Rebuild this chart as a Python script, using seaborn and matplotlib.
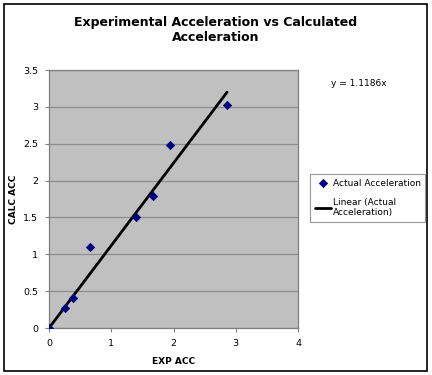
import numpy as np
import pandas as pd
import matplotlib
matplotlib.use("Agg")
import matplotlib.pyplot as plt
import seaborn as sns
from matplotlib.patches import Rectangle

# Data
exp_acc = [0.0, 0.26, 0.38, 0.66, 1.39, 1.67, 1.95, 2.86]
calc_acc = [0.0, 0.27, 0.41, 1.10, 1.51, 1.79, 2.48, 3.03]
slope = 1.1186
x_ticks = [0, 1, 2, 3, 4]
y_ticks = [0, 0.5, 1, 1.5, 2, 2.5, 3, 3.5]

df = pd.DataFrame({"exp": exp_acc, "calc": calc_acc})
fit = pd.DataFrame({"exp": [0.0, max(exp_acc)]})
fit["calc"] = slope * fit["exp"]

sns.set_style("white")
plt.rcParams["font.family"] = ["DejaVu Sans"]
plt.rcParams["text.color"] = "black"
plt.rcParams["axes.labelcolor"] = "black"
plt.rcParams["xtick.color"] = "black"
plt.rcParams["ytick.color"] = "black"

fig = plt.figure(figsize=(4.32, 3.75), dpi=100)
ax = fig.add_axes([49 / 432, 1 - 328 / 375, 249 / 432, 258 / 375])
ax.set_facecolor("#c0c0c0")

# Horizontal gridlines
for yv in y_ticks:
    ax.axhline(yv, color="#8e8e8e", linewidth=0.9, zorder=1)

sns.lineplot(data=fit, x="exp", y="calc", ax=ax, color="black",
             linewidth=2, zorder=3, label="Linear (Actual\nAcceleration)")
sns.scatterplot(data=df, x="exp", y="calc", ax=ax, color="#000080",
                marker="D", s=18, edgecolor="#000080", linewidth=0.5,
                zorder=4, label="Actual Acceleration")

ax.set_xlim(0, 4)
ax.set_ylim(0, 3.5)
ax.set_xticks(x_ticks)
ax.set_yticks(y_ticks)
ax.set_xticklabels([str(v) for v in x_ticks])
ax.set_yticklabels([f"{v:g}" for v in y_ticks])
ax.tick_params(axis="both", labelsize=6.8, length=3, color="#808080",
               labelcolor="black", direction="out", pad=5,
               left=True, bottom=True)
for sp in ax.spines.values():
    sp.set_color("#808080")
    sp.set_linewidth(0.9)

ax.set_xlabel("EXP ACC", fontsize=6.5, fontweight="bold")
ax.set_ylabel("CALC ACC", fontsize=6.5, fontweight="bold")
ax.xaxis.set_label_coords(0.5, -0.112)
ax.yaxis.set_label_coords(-0.125, 0.5)

fig.text(215.5 / 432, 1 - 30 / 375,
         "Experimental Acceleration vs Calculated\nAcceleration",
         ha="center", va="center", fontsize=9, fontweight="bold",
         linespacing=1.2)

fig.text(331 / 432, 1 - 84 / 375, "y = 1.1186x", fontsize=6.5,
         ha="left", va="center")

handles, labels = ax.get_legend_handles_labels()
order = [1, 0]
leg = fig.legend([handles[i] for i in order], [labels[i] for i in order],
                 loc="upper left", bbox_to_anchor=(310 / 432, 1 - 174 / 375),
                 fontsize=6.5, frameon=True, fancybox=False,
                 borderpad=0.5, labelspacing=1.15, handlelength=1.8,
                 handletextpad=0.2, borderaxespad=0)
leg.get_frame().set_edgecolor("#808080")
leg.get_frame().set_linewidth(0.8)
if ax.get_legend():
    ax.get_legend().remove()

# Outer chart border
fig.patches.append(Rectangle((4 / 432, 1 - 371 / 375), 423 / 432, 367 / 375,
                             transform=fig.transFigure, fill=False,
                             edgecolor="black", linewidth=1.2))

fig.savefig("out.png", dpi=100)
